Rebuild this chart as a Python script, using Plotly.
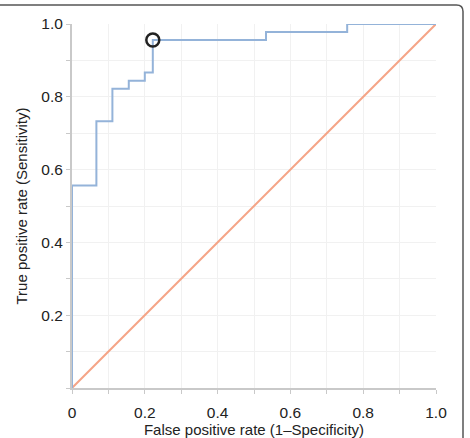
import plotly.graph_objects as go

# ROC curve corner points (step, horizontal-then-vertical)
fpr = [0.0, 0.0, 0.067, 0.111, 0.156, 0.200, 0.222, 0.533, 0.756, 1.0]
tpr = [0.0, 0.556, 0.733, 0.822, 0.844, 0.867, 0.956, 0.978, 1.0, 1.0]
# reference diagonal
diag_x = [0.0, 1.0]
diag_y = [0.0, 1.0]
# optimal cut-off point
opt_x = [0.222]
opt_y = [0.956]

x_tickvals = [0, 0.2, 0.4, 0.6, 0.8, 1.0]
x_ticktext = ["0", "0.2", "0.4", "0.6", "0.8", "1.0"]
y_tickvals = [0.2, 0.4, 0.6, 0.8, 1.0]
y_ticktext = ["0.2", "0.4", "0.6", "0.8", "1.0"]

FONT = "Liberation Sans, Arial, sans-serif"

fig = go.Figure()
fig.add_trace(go.Scatter(x=diag_x, y=diag_y, mode="lines",
                         line=dict(color="#f5a487", width=2), hoverinfo="skip"))
fig.add_trace(go.Scatter(x=fpr, y=tpr, mode="lines", line_shape="hv",
                         line=dict(color="#94b3d9", width=2)))
fig.add_trace(go.Scatter(x=opt_x, y=opt_y, mode="markers",
                         marker=dict(symbol="circle-open", size=13,
                                     line=dict(color="#222222", width=2.5),
                                     color="#222222")))

axis_common = dict(
    range=[0, 1], showgrid=False, zeroline=False, automargin=False,
    showline=True, linecolor="#c9c9c9", linewidth=2,
    ticks="outside", ticklen=4, tickcolor="#c9c9c9", tickwidth=1,
    tickfont=dict(family=FONT, size=15.5, color="#222222"),
    minor=dict(dtick=0.1, tick0=0, ticks="outside", ticklen=4, tickcolor="#c9c9c9",
               showgrid=True, gridcolor="#f1f1f1", gridwidth=1),
)

fig.update_xaxes(**axis_common, tickmode="array", tickvals=x_tickvals, ticktext=x_ticktext,
                 ticklabelstandoff=5,
                 title=dict(text="False positive rate (1–Specificity)", standoff=10,
                            font=dict(family=FONT, size=15, color="#222222")))
fig.update_yaxes(**axis_common, tickmode="array", tickvals=y_tickvals, ticktext=y_ticktext,
                 title=dict(text="True positive rate (Sensitivity)", standoff=10,
                            font=dict(family=FONT, size=15, color="#222222")))

# figure frame (top and right edges visible, rounded corner)
r = 0.018
xr = (463 - 72) / 364
yt = (388 - 5) / 364
path = (f"M -0.4,{yt} L {xr - r},{yt} Q {xr},{yt} {xr},{yt - r} L {xr},-0.3")
fig.add_shape(type="path", path=path, xref="paper", yref="paper",
              line=dict(color="#555555", width=1.5), layer="above")

fig.update_layout(
    width=470, height=438,
    margin=dict(l=72, r=34, t=24, b=50),
    plot_bgcolor="white", paper_bgcolor="white",
    showlegend=False,
)

fig.write_html("out.html")
